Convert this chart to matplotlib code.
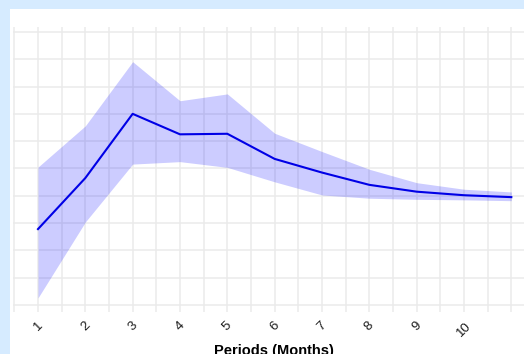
import matplotlib
matplotlib.use("Agg")
import matplotlib.pyplot as plt
from matplotlib.patches import Rectangle
import numpy as np

plt.rcParams["font.family"] = ["Liberation Sans", "DejaVu Sans"]

# meses e media com intervalo
periodos = [1, 2, 3, 4, 5, 6, 7, 8, 9, 10, 11]
media = [2.78, 4.65, 7.00, 6.25, 6.27, 5.35, 4.85, 4.40, 4.15, 4.02, 3.95]
superior = [5.05, 6.56, 8.91, 7.48, 7.73, 6.29, 5.62, 4.97, 4.48, 4.24, 4.14]
inferior = [0.26, 3.04, 5.16, 5.25, 5.04, 4.51, 4.03, 3.91, 3.87, 3.85, 3.82]
rotulos = ["1", "2", "3", "4", "5", "6", "7", "8", "9", "10"]

fig = plt.figure(figsize=(5.24, 3.54), dpi=100)
fig.patch.set_facecolor("#d6ebff")
# painel branco
fig.patches.append(Rectangle((10 / 524, 0), 1, 1 - 9 / 354, transform=fig.transFigure,
                             facecolor="white", edgecolor="none", zorder=-1))

ax = fig.add_axes([13 / 524, 42 / 354, 522 / 524, 285 / 354])
ax.set_facecolor("none")

# grade
for gx in np.arange(0.5, 12, 0.5):
    ax.axvline(gx, color="#ebebeb", lw=1.1, zorder=0)
for gy in range(0, 11):
    ax.axhline(gy, color="#ebebeb", lw=1.1, zorder=0)

ax.fill_between(periodos, inferior, superior, color="#0000ff", alpha=0.2, lw=0, zorder=1)
ax.plot(periodos, media, color="#0000e6", lw=1.5, zorder=2)

ax.set_xlim(0.472, 11.5)
ax.set_ylim(-0.256, 10.18)
ax.set_xticks(periodos[:10])
ax.set_xticklabels(rotulos, rotation=45, ha="center", fontsize=9.5, color="#1a1a1a")
ax.set_yticks([])
ax.tick_params(axis="x", length=0, pad=5.5)
for s in ax.spines.values():
    s.set_visible(False)

ax.set_xlabel("Periods (Months)", fontsize=10.5, fontweight="bold", labelpad=4)

fig.savefig("out.png", dpi=100, facecolor=fig.get_facecolor())
